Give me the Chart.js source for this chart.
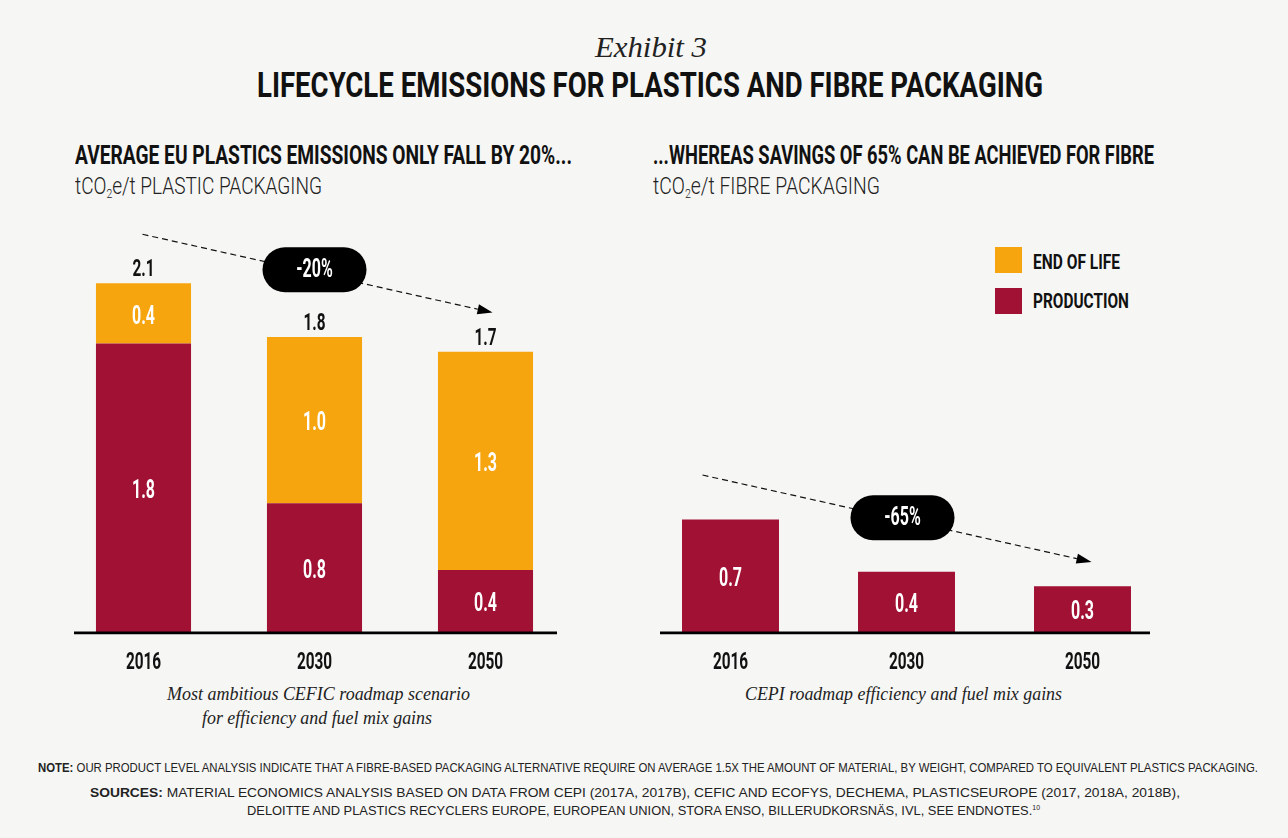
<!DOCTYPE html>
<html><head><meta charset="utf-8">
<script src="https://cdn.jsdelivr.net/npm/chart.js@4.4.1/dist/chart.umd.min.js"></script>
<style>
html,body{margin:0;padding:0;background:#f6f6f4;}
#page{position:relative;width:1288px;height:838px;overflow:hidden;background:#f6f6f4;}
.t{position:absolute;white-space:nowrap;line-height:1;color:#111;}
.cond{font-family:Roboto,'DejaVu Sans',sans-serif;font-weight:bold;}
.light{font-family:Roboto,'DejaVu Sans',sans-serif;font-weight:300;color:#222;}
.ser{font-family:'Liberation Serif','DejaVu Serif',serif;font-style:italic;color:#222;}
.note{font-family:'Liberation Sans','DejaVu Sans',sans-serif;color:#222;}
sub{font-size:55%;vertical-align:-0.35em;line-height:0;}
canvas{position:absolute;}
.sw{position:absolute;width:27px;height:26px;}
</style></head><body><div id="page">
<div class="t ser" id="exhibit" style="font-size:30px">Exhibit 3</div>
<div class="t cond" id="title" style="font-size:35px">LIFECYCLE EMISSIONS FOR PLASTICS AND FIBRE PACKAGING</div>
<div class="t cond" id="subL" style="font-size:25px">AVERAGE EU PLASTICS EMISSIONS ONLY FALL BY 20%...</div>
<div class="t light" id="unitL" style="font-size:23px">tCO<sub>2</sub>e/t PLASTIC PACKAGING</div>
<div class="t cond" id="subR" style="font-size:25px">...WHEREAS SAVINGS OF 65% CAN BE ACHIEVED FOR FIBRE</div>
<div class="t light" id="unitR" style="font-size:23px">tCO<sub>2</sub>e/t FIBRE PACKAGING</div>
<div class="t ser" id="capL1" style="font-size:19px">Most ambitious CEFIC roadmap scenario</div>
<div class="t ser" id="capL2" style="font-size:19px">for efficiency and fuel mix gains</div>
<div class="t ser" id="capR" style="font-size:19px">CEPI roadmap efficiency and fuel mix gains</div>
<div class="t note" id="note" style="font-size:13px"><b>NOTE:</b> OUR PRODUCT LEVEL ANALYSIS INDICATE THAT A FIBRE-BASED PACKAGING ALTERNATIVE REQUIRE ON AVERAGE 1.5X THE AMOUNT OF MATERIAL, BY WEIGHT, COMPARED TO EQUIVALENT PLASTICS PACKAGING.</div>
<div class="t note" id="src1" style="font-size:13px"><b>SOURCES:</b> MATERIAL ECONOMICS ANALYSIS BASED ON DATA FROM CEPI (2017A, 2017B), CEFIC AND ECOFYS, DECHEMA, PLASTICSEUROPE (2017, 2018A, 2018B),</div>
<div class="t note" id="src2" style="font-size:13px">DELOITTE AND PLASTICS RECYCLERS EUROPE, EUROPEAN UNION, STORA ENSO, BILLERUDKORSNÄS, IVL, SEE ENDNOTES.<sup style="font-size:7px;vertical-align:5px">10</sup></div>
<div id="legend"></div>
<canvas id="cL" width="640" height="500" style="left:0;top:200px"></canvas>
<canvas id="cR" width="648" height="500" style="left:640px;top:200px"></canvas>
</div>
<script>
// ---- data ----
const years = ['2016', '2030', '2050'];
const seriesNames = ['PRODUCTION', 'END OF LIFE'];
const plasticProduction = [1.77, 0.79, 0.38];
const plasticEndOfLife = [0.37, 1.02, 1.34];
const fibreProduction = [0.69, 0.37, 0.28];
const plasticChange = '-20%';
const fibreChange = '-65%';

const RED = '#a11134', ORANGE = '#f6a50f';
const colors = [RED, ORANGE];

// ---- html text placement ----
function place(id, x1, x2, yc) {
  const el = document.getElementById(id);
  const size = parseFloat(el.style.fontSize);
  el.style.left = x1 + 'px';
  el.style.top = (yc - 0.5 * size) + 'px';
  const w = el.getBoundingClientRect().width;
  el.style.transformOrigin = '0 50%';
  el.style.transform = 'scaleX(' + ((x2 - x1) / w) + ')';
}
place('exhibit', 595, 707, 47);
place('title', 257, 1043, 85);
place('subL', 75, 572, 155);
place('unitL', 75, 322, 186);
place('subR', 653, 1154, 155);
place('unitR', 653, 880, 186);
place('capL1', 167, 470, 693);
place('capL2', 202, 432, 717);
place('capR', 745, 1062, 693);
place('note', 38, 1258, 767);
place('src1', 90, 1180, 792);
place('src2', 247, 1040, 810);

// legend built from series (reverse order: END OF LIFE on top)
const leg = document.getElementById('legend');
[1, 0].forEach((k, i) => {
  const sw = document.createElement('div');
  sw.className = 'sw'; sw.style.background = colors[k];
  sw.style.left = '995px'; sw.style.top = (247 + i * 41) + 'px';
  leg.appendChild(sw);
  const t = document.createElement('div');
  t.className = 't cond'; t.id = 'leg' + k; t.style.fontSize = '21px';
  t.textContent = seriesNames[k];
  leg.appendChild(t);
});
place('leg1', 1033, 1120, 262);
place('leg0', 1033, 1129, 301);

// ---- canvas helpers ----
const SX = 0.64;
function condText(ctx, txt, x, y, size, color) {
  ctx.save();
  ctx.font = 'bold ' + size + 'px Roboto, "DejaVu Sans", sans-serif';
  ctx.fillStyle = color; ctx.textAlign = 'center'; ctx.textBaseline = 'middle';
  ctx.translate(x, y + 1); ctx.scale(SX, 1);
  ctx.fillText(txt, 0, 0);
  ctx.restore();
}

const decor = {
  id: 'decor',
  afterDatasetsDraw(chart, args, o) {
    const ctx = chart.ctx, ca = chart.chartArea;
    const xs = chart.scales.x, ys = chart.scales.y;
    // baseline
    ctx.save();
    ctx.strokeStyle = '#000'; ctx.lineWidth = 2.6;
    ctx.beginPath();
    ctx.moveTo(ca.left + o.inL, ca.bottom + 0.9);
    ctx.lineTo(ca.right - o.inR, ca.bottom + 0.9);
    ctx.stroke();
    ctx.restore();
    // segment labels
    const n = chart.data.labels.length;
    const totals = new Array(n).fill(0);
    chart.data.datasets.forEach((ds, di) => {
      const meta = chart.getDatasetMeta(di);
      meta.data.forEach((bar, i) => {
        const yc = (bar.y + bar.base) / 2 + 3;
        condText(ctx, ds.data[i].toFixed(1), bar.x, yc, 25, '#fff');
        totals[i] += ds.data[i];
      });
    });
    // totals above stacked bars
    if (chart.data.datasets.length > 1) {
      totals.forEach((t, i) => {
        condText(ctx, t.toFixed(1), xs.getPixelForValue(i), ys.getPixelForValue(t) - 14, 24, '#111');
      });
    }
    // year labels
    chart.data.labels.forEach((l, i) => {
      condText(ctx, l, xs.getPixelForValue(i), ca.bottom + 30, 24, '#111');
    });
    // dashed arrow
    const a = o.arrow;
    const x1 = xs.getPixelForValue(a.i1) + a.dx1, y1 = ys.getPixelForValue(a.v1);
    const x2 = xs.getPixelForValue(a.i2) + a.dx2, y2 = ys.getPixelForValue(a.v2);
    const ang = Math.atan2(y2 - y1, x2 - x1);
    const hl = 15, hw = 5;
    ctx.save();
    ctx.strokeStyle = '#111'; ctx.lineWidth = 1.2; ctx.setLineDash([6, 4]);
    ctx.beginPath(); ctx.moveTo(x1, y1);
    ctx.lineTo(x2 - hl * Math.cos(ang), y2 - hl * Math.sin(ang)); ctx.stroke();
    ctx.setLineDash([]);
    ctx.fillStyle = '#000';
    ctx.translate(x2, y2); ctx.rotate(ang);
    ctx.beginPath(); ctx.moveTo(0, 0); ctx.lineTo(-hl, -hw); ctx.lineTo(-hl, hw); ctx.closePath(); ctx.fill();
    ctx.restore();
    // pill
    const px = xs.getPixelForValue(1) + a.pdx;
    const py = y1 + (y2 - y1) * (px - x1) / (x2 - x1) + a.pdy;
    const w = 104, h = 45;
    ctx.save();
    ctx.fillStyle = '#000';
    ctx.beginPath();
    ctx.roundRect(px - w / 2, py - h / 2, w, h, h / 2);
    ctx.fill();
    ctx.restore();
    condText(ctx, a.text, px, py, 25, '#fff');
  }
};

function makeChart(id, datasets, pad, barPct, decorOpts) {
  return new Chart(document.getElementById(id), {
    type: 'bar',
    data: { labels: years, datasets },
    options: {
      responsive: false, animation: false, devicePixelRatio: 1,
      layout: { padding: pad },
      plugins: { legend: { display: false }, tooltip: { enabled: false }, decor: decorOpts },
      datasets: { bar: { categoryPercentage: 1, barPercentage: barPct, borderWidth: 0 } },
      scales: {
        x: { display: false, stacked: true, offset: true },
        y: { display: false, stacked: true, min: 0, max: 2.6 }
      }
    },
    plugins: [decor]
  });
}

makeChart('cL', [
  { label: seriesNames[0], data: plasticProduction, backgroundColor: RED },
  { label: seriesNames[1], data: plasticEndOfLife, backgroundColor: ORANGE }
], { left: 58, right: 69, top: 8.2, bottom: 68 }, 0.556,
  { inL: 16, inR: 14, arrow: { i1: 0, dx1: -1, v1: 2.44, i2: 2, dx2: 7, v2: 1.96, pdx: 0, pdy: -3, text: plasticChange } });

makeChart('cR', [
  { label: seriesNames[0], data: fibreProduction, backgroundColor: RED }
], { left: 2.5, right: 117.5, top: 8.2, bottom: 68 }, 0.551,
  { inL: 17.5, inR: 20.5, arrow: { i1: 0, dx1: -28, v1: 0.963, i2: 2, dx2: 9, v2: 0.43, pdx: -4, pdy: -2, text: fibreChange } });
</script>
</body></html>
